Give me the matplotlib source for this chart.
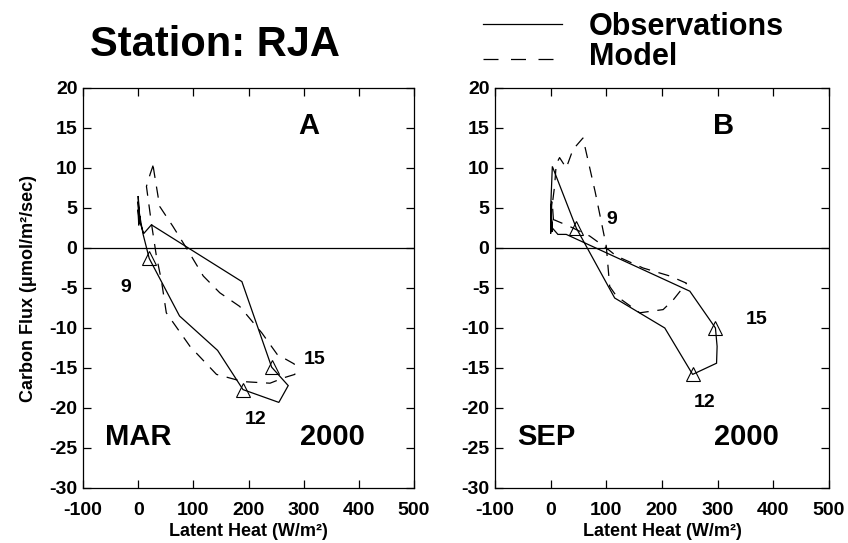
import matplotlib
matplotlib.use("Agg")
import matplotlib.pyplot as plt

plt.rcParams['font.family'] = ['Liberation Sans', 'DejaVu Sans']
plt.rcParams['font.weight'] = 'bold'
plt.rcParams['axes.unicode_minus'] = False

# March 2000, hourly (0-23 h)
mar_obs_x = [3, 1, 0, 2, 0, 1, 3, 5, 9, 20, 75, 144, 190, 255, 272, 242, 188, 24, 10, 2, 0, 1, 4, 2]
mar_obs_y = [3.5, 5.5, 6.5, 3.0, 4.8, 2.8, 4.0, 3.2, 1.7, -1.3, -8.5, -12.8, -17.7, -19.3, -17.2,
             -14.9, -4.2, 2.9, 1.8, 3.5, 5.8, 3.0, 3.3, 4.5]
mar_mod_x = [27, 22, 15, 24, 33, 42, 51, 94, 142, 190, 239, 265, 284, 283, 252, 224, 184, 148,
             118, 91, 63, 39, 30, 27]
mar_mod_y = [10.3, 9.3, 7.7, 3.1, -1.0, -4.0, -8.1, -12.3, -15.8, -16.7, -16.9, -16.2, -15.8,
             -14.5, -13.3, -10.6, -7.3, -5.6, -3.5, -0.4, 2.7, 5.2, 9.0, 10.3]

# September 2000, hourly (0-23 h)
sep_obs_x = [2, 0, 1, 3, 0, 1, 0, 0, 3, 46, 115, 205, 255, 298, 299, 296, 250, 28, 13, 3, 0, 2, 1, 0]
sep_obs_y = [3.0, 5.5, 4.0, 2.0, 3.5, 5.0, 1.8, 5.0, 10.2, 2.5, -6.25, -10.0, -15.8, -14.4,
             -12.3, -10.0, -5.4, 1.7, 1.7, 2.5, 4.5, 5.8, 3.5, 2.2]
sep_mod_x = [5, 3, 7, 10, 16, 28, 40, 58, 80, 100, 106, 118, 160, 202, 220, 244, 214, 166, 118,
             100, 70, 34, 7, 5]
sep_mod_y = [3.5, 5.5, 7.7, 10.5, 11.3, 10.0, 12.3, 13.75, 7.0, 0.2, -4.8, -6.0, -8.1, -7.7,
             -6.5, -4.4, -3.5, -2.5, -1.0, 0.0, 1.5, 2.7, 3.5, 3.5]

mark_hours = [9, 12, 15]
xticks = [-100, 0, 100, 200, 300, 400, 500]
yticks = list(range(-30, 21, 5))

W, H = 848, 543


def fx(px):
    return px / W


def fy(py):
    return 1 - py / H


fig = plt.figure(figsize=(W / 100, H / 100), dpi=100)

panels = [
    dict(rect=[fx(83), fy(488), (414 - 83) / W, 400 / H],
         ox=mar_obs_x, oy=mar_obs_y, mx=mar_mod_x, my=mar_mod_y, letter='A', month='MAR',
         hour_pos={9: (-22, -5.0), 12: (213, -21.4), 15: (319, -14.0)},
         month_x=0, year_x=353, ylabel=True),
    dict(rect=[fx(495), fy(488), (829 - 495) / W, 400 / H],
         ox=sep_obs_x, oy=sep_obs_y, mx=sep_mod_x, my=sep_mod_y, letter='B', month='SEP',
         hour_pos={9: (109, 3.5), 12: (277, -19.3), 15: (370, -9.0)},
         month_x=-7, year_x=352, ylabel=False),
]

for p in panels:
    ax = fig.add_axes(p['rect'])
    ax.plot(p['ox'], p['oy'], color='black', lw=0.9, solid_joinstyle='miter')
    ax.plot(p['mx'], p['my'], color='black', lw=0.9, dashes=(9, 7))
    ax.plot([p['ox'][h] for h in mark_hours], [p['oy'][h] for h in mark_hours],
            linestyle='none', marker='^', markersize=10, markerfacecolor='none',
            markeredgecolor='black', markeredgewidth=0.8)
    ax.axhline(0, color='black', lw=0.9)
    ax.set_xlim(-100, 500)
    ax.set_ylim(-30, 20)
    ax.set_xticks(xticks)
    ax.set_yticks(yticks)
    ax.tick_params(direction='in', length=6, width=0.9, top=True, right=True,
                   labelsize=14)
    ax.tick_params(axis='x', pad=10)
    ax.tick_params(axis='y', pad=4)
    for lab in ax.get_xticklabels() + ax.get_yticklabels():
        lab.set_fontweight('bold')
    for s in ax.spines.values():
        s.set_linewidth(0.9)
    ax.set_xlabel('Latent Heat (W/m²)', fontsize=13, fontweight='bold', labelpad=3)
    if p['ylabel']:
        ax.set_ylabel('Carbon Flux (μmol/m²/sec)', fontsize=13, fontweight='bold', labelpad=9)
    ax.text(310, 15.2, p['letter'], fontsize=21, fontweight='bold', ha='center', va='center')
    ax.text(p['month_x'], -23.6, p['month'], fontsize=21, fontweight='bold',
            ha='center', va='center')
    ax.text(p['year_x'], -23.6, '2000', fontsize=21, fontweight='bold',
            ha='center', va='center')
    for h, (tx, ty) in p['hour_pos'].items():
        ax.text(tx, ty, str(h), fontsize=14, fontweight='bold', ha='center', va='center')

fig.text(fx(215), fy(45), 'Station: RJA', fontsize=30, fontweight='bold',
         ha='center', va='center')
fig.add_artist(plt.Line2D([fx(483), fx(562)], [fy(24), fy(24)], color='black', lw=0.9))
fig.add_artist(plt.Line2D([fx(483), fx(562)], [fy(59), fy(59)], color='black', lw=0.9,
                          dashes=(12, 10)))
fig.text(fx(589), fy(35), 'Observations', fontsize=22, fontweight='bold',
         ha='left', va='baseline')
fig.text(fx(589), fy(65), 'Model', fontsize=22, fontweight='bold', ha='left', va='baseline')

fig.savefig('out.png', dpi=100)
